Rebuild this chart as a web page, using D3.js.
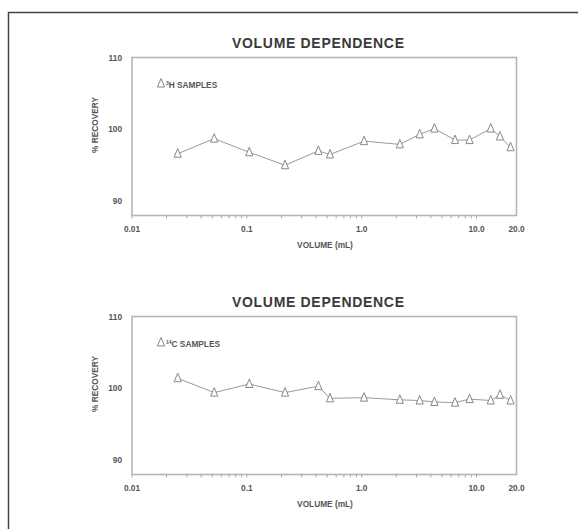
<!DOCTYPE html>
<html>
<head>
<meta charset="utf-8">
<script src="https://cdn.jsdelivr.net/npm/d3@7"></script>
<style>
  body { margin: 0; background: #fff; }
  text { font-family: "Liberation Sans", Arial, sans-serif; }
</style>
</head>
<body>
<div id="chart"></div>
<script>
// Volume dependence of % recovery, two panels (3H and 14C samples)

const volumes = [0.025, 0.052, 0.105, 0.215, 0.42, 0.53, 1.05, 2.15, 3.2, 4.3, 6.5, 8.7, 13.3, 16, 19.8];
const recoveryH = [96.6, 98.7, 96.8, 95.0, 97.0, 96.5, 98.35, 97.9, 99.3, 100.1, 98.5, 98.5, 100.1, 99.0, 97.5];
const recoveryC = [101.4, 99.4, 100.6, 99.4, 100.3, 98.6, 98.7, 98.4, 98.3, 98.1, 98.0, 98.5, 98.3, 99.1, 98.3];
const xTickValues = [0.01, 0.1, 1, 10, 20];
const xTickLabels = ["0.01", "0.1", "1.0", "10.0", "20.0"];
const yTickValues = [90, 100, 110];

const svg = d3.select("#chart").
append("svg").
attr("width", 578).
attr("height", 529);

// outer frame
svg.append("path").
attr("d", "M8.5,540 V12.5 H590").
attr("fill", "none").
attr("stroke", "#444").
attr("stroke-width", 1.5);

const panels = [
  { top: 57.5, values: recoveryH, iso: "3", el: "H" },
  { top: 316.5, values: recoveryC, iso: "14", el: "C" }];

const left = 132, right = 516.5, plotH = 158;
const smallFont = 8.3;

const x = d3.scaleLog().
domain([0.01, 22.3]).
range([left, right]);

// minor ticks 1..9 per decade
const minorTicks = [];
[0.01, 0.1, 1, 10].forEach(dec => {
  for (let k = 1; k <= 9; k++) if (dec * k < 20) minorTicks.push(dec * k);
});

// narrow open triangle marker
const triangle = {
  draw(ctx) {
    ctx.moveTo(0, -5);
    ctx.lineTo(3.6, 3.5);
    ctx.lineTo(-3.6, 3.5);
    ctx.closePath();
  } };
const tri = d3.symbol().type(triangle);

panels.forEach(p => {
  const g = svg.append("g");
  const y = d3.scaleLinear().
  domain([88, 110]).
  range([p.top + plotH, p.top]);

  // title
  g.append("text").
  attr("x", 318).
  attr("y", p.top - 10).
  attr("text-anchor", "middle").
  attr("font-size", 14).
  attr("font-weight", "bold").
  attr("fill", "#3a3a3a").
  attr("textLength", 172).
  text("VOLUME DEPENDENCE");

  // plot box
  g.append("rect").
  attr("x", left).
  attr("y", p.top).
  attr("width", right - left).
  attr("height", plotH).
  attr("fill", "none").
  attr("stroke", "#b5b5b5").
  attr("stroke-width", 1.6);

  // x axis
  const xAxis = g.append("g").
  attr("transform", `translate(0,${p.top + plotH})`);

  xAxis.selectAll(".minor").
  data(minorTicks).
  join("line").
  attr("x1", d => x(d)).
  attr("x2", d => x(d)).
  attr("y1", 0).
  attr("y2", 3).
  attr("stroke", "#aaa").
  attr("stroke-width", 1);

  xAxis.selectAll(".lbl").
  data(xTickValues).
  join("text").
  attr("x", (d, i) => i === 4 ? right : x(d)).
  attr("y", 16).
  attr("text-anchor", "middle").
  attr("font-size", smallFont).
  attr("font-weight", "bold").
  attr("fill", "#555").
  text((d, i) => xTickLabels[i]);

  xAxis.append("text").
  attr("x", 325).
  attr("y", 32).
  attr("text-anchor", "middle").
  attr("font-size", smallFont).
  attr("font-weight", "bold").
  attr("fill", "#555").
  text("VOLUME (mL)");

  // y axis labels
  g.selectAll(".ylbl").
  data(yTickValues).
  join("text").
  attr("x", 122).
  attr("y", d => y(d) + 3).
  attr("text-anchor", "end").
  attr("font-size", smallFont).
  attr("font-weight", "bold").
  attr("fill", "#555").
  text(d => d);

  g.append("text").
  attr("transform", `translate(98,${y(100.6)}) rotate(-90)`).
  attr("text-anchor", "middle").
  attr("font-size", smallFont).
  attr("font-weight", "bold").
  attr("fill", "#555").
  text("% RECOVERY");

  // data line + markers
  const pts = volumes.map((v, i) => [v, p.values[i]]);
  g.append("path").
  datum(pts).
  attr("fill", "none").
  attr("stroke", "#999").
  attr("stroke-width", 1).
  attr("d", d3.line().x(d => x(d[0])).y(d => y(d[1])));

  g.selectAll(".pt").
  data(pts).
  join("path").
  attr("transform", d => `translate(${x(d[0])},${y(d[1])})`).
  attr("d", tri).
  attr("fill", "#fff").
  attr("stroke", "#888").
  attr("stroke-width", 1);

  // legend
  g.append("path").
  attr("transform", `translate(161,${p.top + 26})`).
  attr("d", tri).
  attr("fill", "#fff").
  attr("stroke", "#888");

  const lt = g.append("text").
  attr("x", 166).
  attr("y", p.top + 30).
  attr("font-size", smallFont).
  attr("font-weight", "bold").
  attr("fill", "#555");
  lt.append("tspan").attr("font-size", 5).attr("dy", -3).text(p.iso);
  lt.append("tspan").attr("dy", 3).text(p.el + " SAMPLES");
});
</script>
</body>
</html>
